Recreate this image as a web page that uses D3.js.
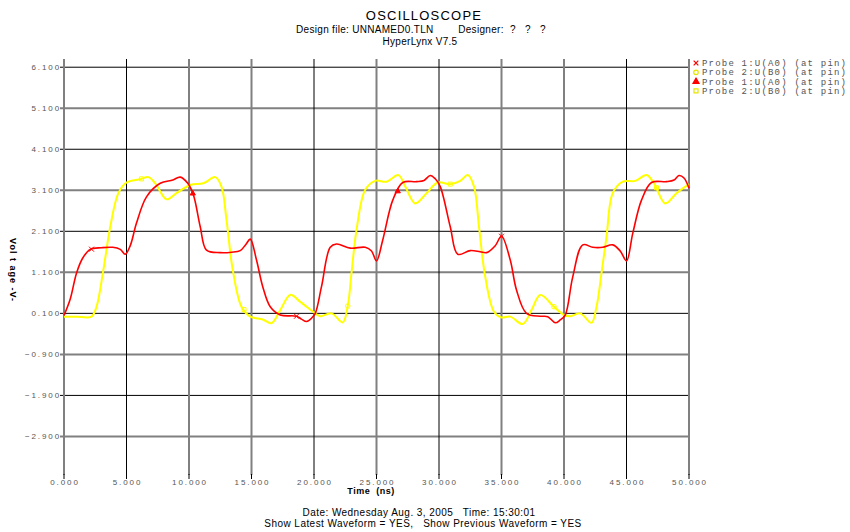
<!DOCTYPE html>
<html>
<head>
<meta charset="utf-8">
<script src="https://cdn.jsdelivr.net/npm/d3@7"></script>
<style>
  body { margin: 0; background: #fff; }
  svg { display: block; }
  text { font-family: "Liberation Sans", Arial, sans-serif; }
</style>
</head>
<body>
<script>
const w = 850;
const h = 532;

// axis ticks
const xTicks = [0, 5, 10, 15, 20, 25, 30, 35, 40, 45, 50];
const yTicks = [6.1, 5.1, 4.1, 3.1, 2.1, 1.1, 0.1, -0.9, -1.9, -2.9];

// Probe 1 : U(A0)  [time ns, volts]
const probe1Time = [0, 0.5, 1.0, 1.5, 2.1, 3.0, 3.9, 4.5, 4.9, 5.3, 5.8, 6.6, 7.7, 8.7, 9.3, 9.9, 10.35, 10.9, 11.4, 12.5, 13.4, 14.1, 14.55, 14.9, 15.4, 15.9, 16.5, 17.3, 18.6, 19.0, 19.4, 19.8, 20.1, 20.6, 21.3, 21.8, 22.9, 24.1, 24.6, 25.0, 25.5, 26.3, 27.1, 28.2, 28.8, 29.3, 29.7, 30.1, 30.9, 31.5, 32.5, 33.3, 33.8, 34.5, 35.0, 35.7, 36.2, 37.0, 38.1, 38.7, 39.3, 39.7, 40.1, 40.7, 41.5, 42.3, 43.1, 43.9, 44.5, 45.0, 45.5, 46.2, 47.0, 48.2, 48.8, 49.2, 49.6, 50];
const probe1Volt = [0.05, 0.45, 1.08, 1.45, 1.66, 1.70, 1.71, 1.66, 1.54, 1.75, 2.30, 2.94, 3.27, 3.35, 3.42, 3.27, 2.99, 2.21, 1.64, 1.58, 1.59, 1.63, 1.78, 1.91, 1.40, 0.75, 0.26, 0.06, 0.03, -0.04, -0.10, -0.02, 0.10, 0.75, 1.71, 1.79, 1.69, 1.71, 1.62, 1.38, 1.89, 2.86, 3.29, 3.31, 3.34, 3.46, 3.38, 3.19, 2.21, 1.54, 1.63, 1.60, 1.58, 1.75, 1.98, 1.40, 0.67, 0.10, 0.03, 0.02, -0.13, -0.06, 0.06, 0.99, 1.77, 1.71, 1.71, 1.77, 1.62, 1.38, 2.05, 2.86, 3.29, 3.31, 3.35, 3.46, 3.40, 3.15];

// Probe 2 : U(B0)  [time ns, volts]
const probe2Time = [0, 1.0, 2.2, 2.6, 3.15, 3.7, 4.35, 5.0, 6.1, 6.75, 7.3, 8.2, 9.0, 10.1, 11.15, 12.1, 12.6, 13.0, 13.5, 14.2, 14.9, 15.9, 16.6, 17.3, 18.1, 18.9, 20.1, 20.5, 21.4, 22.3, 22.7, 23.0, 23.4, 24.1, 24.9, 25.8, 26.75, 27.3, 28.1, 29.0, 29.9, 30.9, 31.7, 32.3, 32.8, 33.2, 33.7, 34.4, 35.0, 35.7, 36.7, 37.4, 38.1, 39.2, 40.0, 40.5, 41.3, 42.2, 42.6, 43.0, 43.4, 43.9, 44.7, 45.7, 46.6, 47.2, 48.1, 49.0, 50];
const probe2Volt = [0.02, 0.02, 0.02, 0.26, 1.16, 2.21, 3.03, 3.29, 3.37, 3.42, 3.27, 2.88, 3.03, 3.23, 3.27, 3.42, 3.19, 2.38, 1.16, 0.26, 0.02, -0.05, -0.14, 0.18, 0.55, 0.38, 0.10, 0.03, 0.10, -0.12, 0.28, 1.08, 2.13, 3.11, 3.33, 3.31, 3.47, 3.19, 2.78, 3.03, 3.29, 3.25, 3.33, 3.47, 3.19, 2.21, 0.99, 0.14, 0.00, 0.02, -0.16, 0.18, 0.55, 0.26, 0.06, 0.03, 0.10, -0.13, 0.26, 1.08, 1.97, 3.03, 3.31, 3.33, 3.47, 3.27, 2.78, 3.03, 3.25];

// marker positions (ns)
const markX = [2.2, 18.6, 35.0];
const markTriangle = [10.3, 26.7];
const markCircle = [22.7, 39.2];
const markSquare = [6.2, 14.4, 30.9, 47.4];

const legendLabels = ['Probe 1:U(A0) (at pin)', 'Probe 2:U(B0) (at pin)', 'Probe 1:U(A0) (at pin)', 'Probe 2:U(B0) (at pin)'];

const red = '#ff0000';
const yellow = '#ffff00';

const svg = d3.select('body').append('svg')
  .attr('width', w)
  .attr('height', h);

const xScale = d3.scaleLinear().domain([0, 50]).range([64, 689]);
const yScale = d3.scaleLinear().domain([-3.84, 6.3]).range([475, 59]);

// titles
svg.append('text')
  .attr('x', 424).attr('y', 20)
  .attr('text-anchor', 'middle')
  .style('font-size', '13px')
  .style('letter-spacing', '1.2px')
  .text('OSCILLOSCOPE');

svg.append('text')
  .attr('x', 421).attr('y', 33)
  .attr('text-anchor', 'middle')
  .attr('xml:space', 'preserve')
  .style('font-size', '10px')
  .style('letter-spacing', '0.3px')
  .style('white-space', 'pre')
  .text('Design file: UNNAMED0.TLN        Designer:  ?   ?   ?');

svg.append('text')
  .attr('x', 420).attr('y', 45)
  .attr('text-anchor', 'middle')
  .style('font-size', '10px')
  .style('letter-spacing', '0.3px')
  .text('HyperLynx V7.5');

// grid, horizontal
const hTone = [0, 1, 0, 1, 0, 1, 0, 1, 0, 1];
svg.append('g').selectAll('line')
  .data(yTicks)
  .enter().append('line')
  .attr('x1', 60).attr('x2', 689)
  .attr('y1', d => yScale(d)).attr('y2', d => yScale(d))
  .attr('stroke', (d, i) => hTone[i] ? '#808080' : '#000')
  .attr('stroke-width', (d, i) => hTone[i] ? 2 : 1);

// grid, vertical
const vTone = [1, 0, 1, 1, 0, 1, 0, 1, 1, 0, 1];
svg.append('g').selectAll('line')
  .data(xTicks)
  .enter().append('line')
  .attr('x1', d => xScale(d)).attr('x2', d => xScale(d))
  .attr('y1', 59).attr('y2', 475)
  .attr('stroke', (d, i) => vTone[i] ? '#808080' : '#000')
  .attr('stroke-width', (d, i) => vTone[i] ? 2 : 1);

// bottom tick stubs
svg.append('g').selectAll('line')
  .data(xTicks)
  .enter().append('line')
  .attr('x1', d => xScale(d)).attr('x2', d => xScale(d))
  .attr('y1', 474).attr('y2', 479)
  .attr('stroke', '#000').attr('stroke-width', 1);

// y labels
svg.append('g').selectAll('text')
  .data(yTicks)
  .enter().append('text')
  .attr('x', 61)
  .attr('y', d => yScale(d) + 3)
  .attr('text-anchor', 'end')
  .attr('fill', '#555')
  .style('font-size', '8px')
  .style('letter-spacing', '1.9px')
  .text(d => d3.format('.3f')(d));

// x labels
svg.append('g').selectAll('text')
  .data(xTicks)
  .enter().append('text')
  .attr('x', d => xScale(d) + 1)
  .attr('y', 485)
  .attr('text-anchor', 'middle')
  .attr('fill', '#555')
  .style('font-size', '8px')
  .style('letter-spacing', '1.9px')
  .text(d => d3.format('.3f')(d));

svg.append('text')
  .attr('x', 371).attr('y', 494)
  .attr('text-anchor', 'middle')
  .style('font-size', '9px')
  .style('font-weight', 'bold')
  .style('letter-spacing', '0.5px')
  .attr('xml:space', 'preserve')
  .style('white-space', 'pre')
  .text('Time  (ns)');

svg.append('text')
  .attr('transform', 'translate(10,270) rotate(90)')
  .attr('text-anchor', 'middle')
  .style('font-size', '9px')
  .style('font-weight', 'bold')
  .style('letter-spacing', '1px')
  .attr('xml:space', 'preserve')
  .style('white-space', 'pre')
  .text('Vol t age -V-');

svg.append('text')
  .attr('x', 419).attr('y', 516)
  .attr('text-anchor', 'middle')
  .attr('xml:space', 'preserve')
  .style('font-size', '10px')
  .style('letter-spacing', '0.45px')
  .style('white-space', 'pre')
  .text('Date: Wednesday Aug. 3, 2005   Time: 15:30:01');

svg.append('text')
  .attr('x', 423).attr('y', 527)
  .attr('text-anchor', 'middle')
  .attr('xml:space', 'preserve')
  .style('font-size', '10px')
  .style('letter-spacing', '0.45px')
  .style('white-space', 'pre')
  .text('Show Latest Waveform = YES,   Show Previous Waveform = YES');

// waveforms
const line = d3.line()
  .x(d => xScale(d[0]))
  .y(d => yScale(d[1]))
  .curve(d3.curveCatmullRom.alpha(0.5));

const p1 = probe1Time.map((t, i) => [t, probe1Volt[i]]);
const p2 = probe2Time.map((t, i) => [t, probe2Volt[i]]);

svg.append('path').datum(p2)
  .attr('d', line).attr('fill', 'none')
  .attr('stroke', yellow).attr('stroke-width', 2);

svg.append('path').datum(p1)
  .attr('d', line).attr('fill', 'none')
  .attr('stroke', red).attr('stroke-width', 1.6);

// markers on curves
function valueAt(times, volts, t) {
  const i = Math.max(1, d3.bisectLeft(times, t));
  const t0 = times[i - 1], t1 = times[i];
  const f = (t - t0) / (t1 - t0);
  return volts[i - 1] + f * (volts[i] - volts[i - 1]);
}

function drawMarks(list, times, volts, type, color, filled, size) {
  svg.append('g').selectAll('path')
    .data(list)
    .enter().append('path')
    .attr('transform', t => 'translate(' + xScale(t) + ',' + yScale(valueAt(times, volts, t)) + ')')
    .attr('d', d3.symbol().type(type).size(size)())
    .attr('fill', filled ? color : 'none')
    .attr('stroke', color)
    .attr('stroke-width', 1);
}

drawMarks(markX, probe1Time, probe1Volt, d3.symbolX, red, false, 18);
drawMarks(markTriangle, probe1Time, probe1Volt, d3.symbolTriangle, red, true, 12);
drawMarks(markCircle, probe2Time, probe2Volt, d3.symbolCircle, yellow, false, 16);
drawMarks(markSquare, probe2Time, probe2Volt, d3.symbolSquare, yellow, false, 16);

// legend
const legendTypes = [d3.symbolX, d3.symbolCircle, d3.symbolTriangle, d3.symbolSquare];
const legendColors = [red, '#e6e600', red, '#e6e600'];
const legendFill = [false, false, true, false];

const legend = svg.append('g').attr('id', 'legend');
legendLabels.forEach((lab, i) => {
  const yy = 63 + i * 9.3;
  legend.append('path')
    .attr('transform', 'translate(696,' + yy + ')')
    .attr('d', d3.symbol().type(legendTypes[i]).size(16)())
    .attr('fill', legendFill[i] ? legendColors[i] : 'none')
    .attr('stroke', legendColors[i])
    .attr('stroke-width', 1.2);
  legend.append('text')
    .attr('x', 702).attr('y', yy + 3)
    .attr('xml:space', 'preserve')
    .attr('fill', '#555')
    .style('font-family', '"Liberation Mono", monospace')
    .style('font-size', '9px')
    .style('letter-spacing', '1.2px')
    .style('white-space', 'pre')
    .text(lab);
});
</script>
</body>
</html>
